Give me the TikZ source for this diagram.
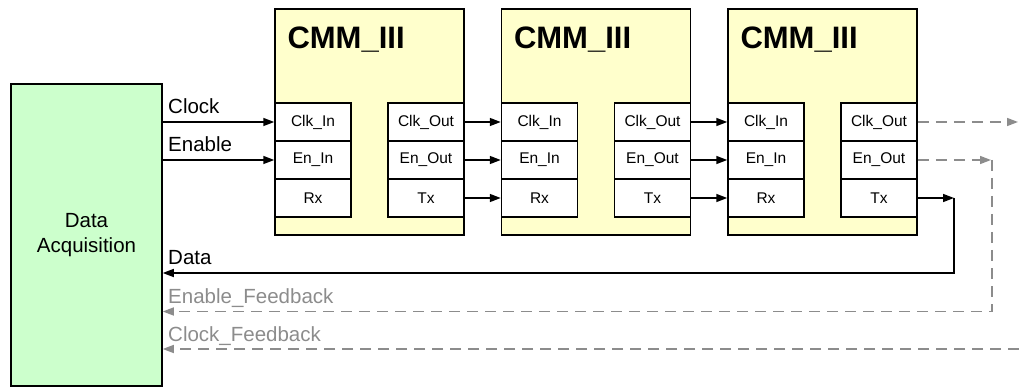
\documentclass[tikz,border=0pt]{standalone}
\usepackage{fontspec}
\setmainfont{Liberation Sans}
\usetikzlibrary{arrows.meta}
\definecolor{dagreen}{HTML}{CCFFCC}
\definecolor{cmmyellow}{HTML}{FFFFCC}
\definecolor{fbgray}{HTML}{8C8C8C}
\begin{document}
\begin{tikzpicture}[x=1pt,y=-1pt,
  dabox/.style={draw=black, line width=1.5pt, fill=dagreen, minimum width=151pt, minimum height=301.5pt, inner sep=0pt, align=center, font=\fontsize{20.5}{25}\selectfont},
  cmmbox/.style={draw=black, line width=1.8pt, fill=cmmyellow, minimum width=189pt, minimum height=226pt, inner sep=0pt},
  port/.style={draw=black, line width=1.5pt, fill=white, minimum width=76pt, minimum height=38pt, inner sep=0pt, font=\fontsize{15.5}{18}\selectfont},
  ttl/.style={anchor=base west, inner sep=0pt, font=\bfseries\fontsize{31}{36}\selectfont},
  lbl/.style={anchor=base west, inner sep=0pt, font=\fontsize{20.5}{24}\selectfont},
  glbl/.style={lbl, text=fbgray},
  arr/.style={line width=1.5pt, -{Triangle[length=11pt,width=8pt]}},
  garr/.style={line width=1.5pt, draw=fbgray, dash pattern=on 11pt off 7pt, -{Triangle[length=11pt,width=8pt]}},
  gline/.style={line width=1.5pt, draw=fbgray, dash pattern=on 11pt off 7pt}
]
\useasboundingbox (0,0) rectangle (1019,387);

\node[dabox] (da) at (86.5,235) {Data\\Acquisition};

\foreach \i/\L in {1/275,2/501.5,3/728}{
  \node[cmmbox] (c\i) at (\L+94.5,122) {};
  \node[ttl] (t\i) at (\L+12.3,49) {CMM\_III};
  \node[port] (ci\i) at (\L+38,122) {Clk\_In};
  \node[port] (ei\i) at (\L+38,160) {En\_In};
  \node[port] (rx\i) at (\L+38,198) {Rx};
  \node[port] (co\i) at (\L+151,122) {Clk\_Out};
  \node[port] (eo\i) at (\L+151,160) {En\_Out};
  \node[port] (tx\i) at (\L+151,198) {Tx};
}

% inputs from data acquisition
\draw[arr] (da.east |- ci1) -- (ci1.west);
\draw[arr] (da.east |- ei1) -- (ei1.west);
\node[lbl] (lclk) at (168,114) {Clock};
\node[lbl] (len) at (168,152) {Enable};

% chain connections
\foreach \a/\b in {1/2,2/3}{
  \draw[arr] (co\a.east) -- (ci\b.west);
  \draw[arr] (eo\a.east) -- (ei\b.west);
  \draw[arr] (tx\a.east) -- (rx\b.west);
}

% data return
\coordinate (txc) at (954,198);
\coordinate (datay) at (954,273);
\draw[arr] (tx3.east) -- (txc);
\draw[arr] (txc) -- (datay) -- (da.east |- datay);
\node[lbl] (ldata) at (168,265) {Data};

% enable feedback
\coordinate (enc) at (991,160);
\coordinate (enfb) at (992,311.5);
\draw[garr] (eo3.east) -- (enc);
\draw[garr] (992,160) -- (enfb) -- (da.east |- enfb);
\node[glbl] (lenfb) at (168,303) {Enable\_Feedback};

% clock feedback
\coordinate (ckc) at (1018,122);
\coordinate (ckfb) at (1019,349);
\draw[garr] (co3.east) -- (ckc);
\draw[garr] (ckfb) -- (da.east |- ckfb);
\node[glbl] (lckfb) at (168,341) {Clock\_Feedback};
\end{tikzpicture}
\end{document}
